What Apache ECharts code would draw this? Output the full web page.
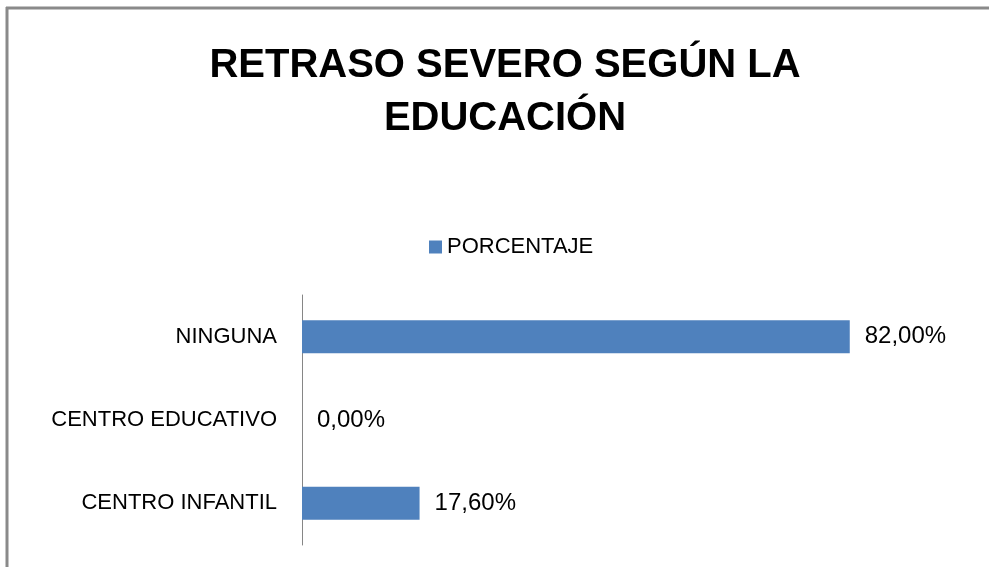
<!DOCTYPE html>
<html>
<head>
<meta charset="utf-8">
<script src="https://cdn.jsdelivr.net/npm/echarts@6/dist/echarts.min.js"></script>
<style>html,body{margin:0;padding:0;background:#fff;}#c{width:989px;height:567px;}</style>
</head>
<body>
<div id="c"></div>
<script>
var titleText = 'RETRASO SEVERO SEGÚN LA\nEDUCACIÓN';
var seriesName = 'PORCENTAJE';
var categories = ['CENTRO INFANTIL', 'CENTRO EDUCATIVO', 'NINGUNA'];
var values = [17.6, 0, 82];

var chart = echarts.init(document.getElementById('c'), null, {renderer: 'canvas'});
chart.setOption({
  animation: false,
  backgroundColor: '#ffffff',
  legend: {
    data: [seriesName],
    top: 236,
    left: 429,
    padding: 0,
    itemWidth: 13,
    itemHeight: 13,
    itemGap: 8,
    icon: 'rect',
    textStyle: {fontFamily: '"Liberation Sans", sans-serif', fontSize: 22, color: '#000000'}
  },
  grid: {left: 302, right: 19, top: 295, bottom: 22, containLabel: false},
  xAxis: {
    type: 'value', min: 0, max: 100, show: false,
    splitLine: {show: false}
  },
  yAxis: {
    type: 'category',
    data: categories,
    axisLine: {show: true, lineStyle: {color: '#868686', width: 1}},
    axisTick: {show: false},
    axisLabel: {
      margin: 25,
      fontFamily: '"Liberation Sans", sans-serif',
      fontSize: 22,
      color: '#000000'
    }
  },
  series: [{
    name: seriesName,
    type: 'bar',
    data: values,
    barWidth: 33,
    itemStyle: {color: '#4F81BD'},
    label: {
      show: true,
      position: 'right',
      distance: 15,
      fontFamily: '"Liberation Sans", sans-serif',
      fontSize: 24,
      color: '#000000',
      formatter: function (p) { return p.value.toFixed(2).replace('.', ',') + '%'; }
    }
  }],
  graphic: [
    {type: 'line', shape: {x1: 6, y1: 8, x2: 989, y2: 8}, style: {stroke: '#8a8a8a', lineWidth: 3}},
    {type: 'line', shape: {x1: 7, y1: 7, x2: 7, y2: 567}, style: {stroke: '#8a8a8a', lineWidth: 3}},
    {type: 'text', x: 505, y: 39, style: {
      text: titleText,
      textAlign: 'center',
      textVerticalAlign: 'top',
      font: 'bold 40px "Liberation Sans", sans-serif',
      lineHeight: 53,
      fill: '#000000'
    }}
  ]
});
</script>
</body>
</html>
